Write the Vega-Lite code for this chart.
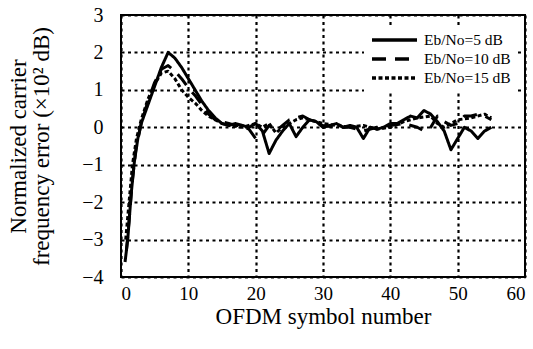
{
  "$schema": "https://vega.github.io/schema/vega-lite/v6.json",
  "width": 404,
  "height": 262,
  "autosize": "none",
  "padding": {"left": 121, "top": 15, "right": 8, "bottom": 72},
  "background": "white",
  "config": {
    "view": {"stroke": "black", "strokeWidth": 2},
    "font": "Liberation Serif"
  },
  "datasets": {
    "curves": [
      {"s": "Eb/No=5 dB", "x": 0.6, "y": -3.6}, {"s": "Eb/No=5 dB", "x": 1, "y": -3.0}, {"s": "Eb/No=5 dB", "x": 1.5, "y": -1.8}, {"s": "Eb/No=5 dB", "x": 2, "y": -0.9}, {"s": "Eb/No=5 dB", "x": 2.5, "y": -0.3}, {"s": "Eb/No=5 dB", "x": 3, "y": 0.1}, {"s": "Eb/No=5 dB", "x": 4, "y": 0.6}, {"s": "Eb/No=5 dB", "x": 5, "y": 1.1}, {"s": "Eb/No=5 dB", "x": 6, "y": 1.6}, {"s": "Eb/No=5 dB", "x": 7, "y": 2.0}, {"s": "Eb/No=5 dB", "x": 8, "y": 1.85}, {"s": "Eb/No=5 dB", "x": 9, "y": 1.6}, {"s": "Eb/No=5 dB", "x": 10, "y": 1.3}, {"s": "Eb/No=5 dB", "x": 11, "y": 1.0}, {"s": "Eb/No=5 dB", "x": 12, "y": 0.7}, {"s": "Eb/No=5 dB", "x": 13, "y": 0.45}, {"s": "Eb/No=5 dB", "x": 14, "y": 0.25}, {"s": "Eb/No=5 dB", "x": 15, "y": 0.1}, {"s": "Eb/No=5 dB", "x": 16, "y": 0.05}, {"s": "Eb/No=5 dB", "x": 17, "y": 0.1}, {"s": "Eb/No=5 dB", "x": 18, "y": 0.05}, {"s": "Eb/No=5 dB", "x": 19, "y": 0.0}, {"s": "Eb/No=5 dB", "x": 20, "y": 0.1}, {"s": "Eb/No=5 dB", "x": 21, "y": -0.1}, {"s": "Eb/No=5 dB", "x": 22, "y": -0.7}, {"s": "Eb/No=5 dB", "x": 23, "y": -0.35}, {"s": "Eb/No=5 dB", "x": 24, "y": -0.1}, {"s": "Eb/No=5 dB", "x": 25, "y": 0.1}, {"s": "Eb/No=5 dB", "x": 26, "y": -0.25}, {"s": "Eb/No=5 dB", "x": 27, "y": 0.0}, {"s": "Eb/No=5 dB", "x": 28, "y": 0.2}, {"s": "Eb/No=5 dB", "x": 29, "y": 0.15}, {"s": "Eb/No=5 dB", "x": 30, "y": 0.0}, {"s": "Eb/No=5 dB", "x": 31, "y": 0.05}, {"s": "Eb/No=5 dB", "x": 32, "y": 0.1}, {"s": "Eb/No=5 dB", "x": 33, "y": 0.0}, {"s": "Eb/No=5 dB", "x": 34, "y": 0.05}, {"s": "Eb/No=5 dB", "x": 35, "y": 0.0}, {"s": "Eb/No=5 dB", "x": 36, "y": -0.3}, {"s": "Eb/No=5 dB", "x": 37, "y": 0.0}, {"s": "Eb/No=5 dB", "x": 38, "y": -0.05}, {"s": "Eb/No=5 dB", "x": 39, "y": 0.0}, {"s": "Eb/No=5 dB", "x": 40, "y": 0.1}, {"s": "Eb/No=5 dB", "x": 41, "y": 0.1}, {"s": "Eb/No=5 dB", "x": 42, "y": 0.2}, {"s": "Eb/No=5 dB", "x": 43, "y": 0.3}, {"s": "Eb/No=5 dB", "x": 44, "y": 0.25}, {"s": "Eb/No=5 dB", "x": 45, "y": 0.45}, {"s": "Eb/No=5 dB", "x": 46, "y": 0.35}, {"s": "Eb/No=5 dB", "x": 47, "y": 0.15}, {"s": "Eb/No=5 dB", "x": 48, "y": -0.1}, {"s": "Eb/No=5 dB", "x": 49, "y": -0.6}, {"s": "Eb/No=5 dB", "x": 50, "y": -0.3}, {"s": "Eb/No=5 dB", "x": 51, "y": 0.0}, {"s": "Eb/No=5 dB", "x": 52, "y": -0.1}, {"s": "Eb/No=5 dB", "x": 53, "y": -0.3}, {"s": "Eb/No=5 dB", "x": 54, "y": -0.1}, {"s": "Eb/No=5 dB", "x": 55, "y": 0.0},
      {"s": "Eb/No=10 dB", "x": 0.8, "y": -3.3}, {"s": "Eb/No=10 dB", "x": 1.2, "y": -2.5}, {"s": "Eb/No=10 dB", "x": 1.7, "y": -1.4}, {"s": "Eb/No=10 dB", "x": 2.2, "y": -0.6}, {"s": "Eb/No=10 dB", "x": 3, "y": 0.1}, {"s": "Eb/No=10 dB", "x": 4, "y": 0.7}, {"s": "Eb/No=10 dB", "x": 5, "y": 1.2}, {"s": "Eb/No=10 dB", "x": 6, "y": 1.55}, {"s": "Eb/No=10 dB", "x": 7, "y": 1.65}, {"s": "Eb/No=10 dB", "x": 8, "y": 1.5}, {"s": "Eb/No=10 dB", "x": 9, "y": 1.3}, {"s": "Eb/No=10 dB", "x": 10, "y": 1.05}, {"s": "Eb/No=10 dB", "x": 11, "y": 0.85}, {"s": "Eb/No=10 dB", "x": 12, "y": 0.6}, {"s": "Eb/No=10 dB", "x": 13, "y": 0.35}, {"s": "Eb/No=10 dB", "x": 14, "y": 0.2}, {"s": "Eb/No=10 dB", "x": 15, "y": 0.15}, {"s": "Eb/No=10 dB", "x": 16, "y": 0.1}, {"s": "Eb/No=10 dB", "x": 17, "y": 0.05}, {"s": "Eb/No=10 dB", "x": 18, "y": 0.05}, {"s": "Eb/No=10 dB", "x": 19, "y": -0.05}, {"s": "Eb/No=10 dB", "x": 20, "y": -0.3}, {"s": "Eb/No=10 dB", "x": 21, "y": -0.2}, {"s": "Eb/No=10 dB", "x": 22, "y": 0.05}, {"s": "Eb/No=10 dB", "x": 23, "y": -0.1}, {"s": "Eb/No=10 dB", "x": 24, "y": 0.05}, {"s": "Eb/No=10 dB", "x": 25, "y": 0.2}, {"s": "Eb/No=10 dB", "x": 26, "y": 0.25}, {"s": "Eb/No=10 dB", "x": 27, "y": 0.3}, {"s": "Eb/No=10 dB", "x": 28, "y": 0.2}, {"s": "Eb/No=10 dB", "x": 29, "y": 0.1}, {"s": "Eb/No=10 dB", "x": 30, "y": 0.05}, {"s": "Eb/No=10 dB", "x": 32, "y": 0.0}, {"s": "Eb/No=10 dB", "x": 34, "y": 0.0}, {"s": "Eb/No=10 dB", "x": 36, "y": -0.1}, {"s": "Eb/No=10 dB", "x": 38, "y": 0.0}, {"s": "Eb/No=10 dB", "x": 40, "y": 0.05}, {"s": "Eb/No=10 dB", "x": 42, "y": 0.1}, {"s": "Eb/No=10 dB", "x": 44, "y": 0.0}, {"s": "Eb/No=10 dB", "x": 45, "y": -0.1}, {"s": "Eb/No=10 dB", "x": 46, "y": 0.0}, {"s": "Eb/No=10 dB", "x": 47, "y": 0.3}, {"s": "Eb/No=10 dB", "x": 48, "y": 0.15}, {"s": "Eb/No=10 dB", "x": 49, "y": 0.05}, {"s": "Eb/No=10 dB", "x": 50, "y": 0.1}, {"s": "Eb/No=10 dB", "x": 51, "y": 0.3}, {"s": "Eb/No=10 dB", "x": 52, "y": 0.3}, {"s": "Eb/No=10 dB", "x": 53, "y": 0.35}, {"s": "Eb/No=10 dB", "x": 54, "y": 0.3}, {"s": "Eb/No=10 dB", "x": 55, "y": 0.2},
      {"s": "Eb/No=15 dB", "x": 0.7, "y": -3.0}, {"s": "Eb/No=15 dB", "x": 1.2, "y": -2.0}, {"s": "Eb/No=15 dB", "x": 1.7, "y": -1.0}, {"s": "Eb/No=15 dB", "x": 2.3, "y": -0.3}, {"s": "Eb/No=15 dB", "x": 3, "y": 0.2}, {"s": "Eb/No=15 dB", "x": 4, "y": 0.75}, {"s": "Eb/No=15 dB", "x": 5, "y": 1.15}, {"s": "Eb/No=15 dB", "x": 6, "y": 1.45}, {"s": "Eb/No=15 dB", "x": 7, "y": 1.5}, {"s": "Eb/No=15 dB", "x": 8, "y": 1.3}, {"s": "Eb/No=15 dB", "x": 9, "y": 1.0}, {"s": "Eb/No=15 dB", "x": 10, "y": 0.8}, {"s": "Eb/No=15 dB", "x": 11, "y": 0.65}, {"s": "Eb/No=15 dB", "x": 12, "y": 0.45}, {"s": "Eb/No=15 dB", "x": 13, "y": 0.3}, {"s": "Eb/No=15 dB", "x": 14, "y": 0.2}, {"s": "Eb/No=15 dB", "x": 15, "y": 0.1}, {"s": "Eb/No=15 dB", "x": 16, "y": 0.05}, {"s": "Eb/No=15 dB", "x": 18, "y": 0.0}, {"s": "Eb/No=15 dB", "x": 20, "y": 0.1}, {"s": "Eb/No=15 dB", "x": 21, "y": 0.0}, {"s": "Eb/No=15 dB", "x": 22, "y": 0.1}, {"s": "Eb/No=15 dB", "x": 23, "y": -0.15}, {"s": "Eb/No=15 dB", "x": 24, "y": 0.0}, {"s": "Eb/No=15 dB", "x": 25, "y": 0.1}, {"s": "Eb/No=15 dB", "x": 26, "y": 0.2}, {"s": "Eb/No=15 dB", "x": 27, "y": 0.25}, {"s": "Eb/No=15 dB", "x": 28, "y": 0.2}, {"s": "Eb/No=15 dB", "x": 30, "y": 0.1}, {"s": "Eb/No=15 dB", "x": 32, "y": 0.05}, {"s": "Eb/No=15 dB", "x": 34, "y": 0.0}, {"s": "Eb/No=15 dB", "x": 36, "y": 0.05}, {"s": "Eb/No=15 dB", "x": 38, "y": -0.05}, {"s": "Eb/No=15 dB", "x": 40, "y": 0.0}, {"s": "Eb/No=15 dB", "x": 42, "y": 0.15}, {"s": "Eb/No=15 dB", "x": 44, "y": 0.25}, {"s": "Eb/No=15 dB", "x": 46, "y": 0.3}, {"s": "Eb/No=15 dB", "x": 47, "y": 0.1}, {"s": "Eb/No=15 dB", "x": 48, "y": 0.0}, {"s": "Eb/No=15 dB", "x": 50, "y": 0.2}, {"s": "Eb/No=15 dB", "x": 52, "y": 0.25}, {"s": "Eb/No=15 dB", "x": 54, "y": 0.35}, {"s": "Eb/No=15 dB", "x": 55, "y": 0.25}
    ]
  },
  "data": {"name": "curves"},
  "mark": {"type": "line", "color": "black", "strokeWidth": 3, "strokeJoin": "round"},
  "encoding": {
    "x": {
      "field": "x", "type": "quantitative",
      "scale": {"domain": [0, 60], "nice": false, "zero": false},
      "axis": {
        "values": [0, 10, 20, 30, 40, 50, 60],
        "title": "OFDM symbol number",
        "titleFont": "Liberation Serif", "titleFontSize": 23, "titleFontWeight": "normal", "titleColor": "black", "titlePadding": 2,
        "labelFont": "Liberation Serif", "labelFontSize": 19, "labelColor": "black", "labelPadding": 7,
        "ticks": false, "domain": false,
        "grid": true, "gridColor": "black", "gridDash": [3, 3.5], "gridWidth": 2.2, "gridOpacity": 1
      }
    },
    "y": {
      "field": "y", "type": "quantitative",
      "scale": {"domain": [-4, 3], "nice": false, "zero": false},
      "axis": {
        "values": [-4, -3, -2, -1, 0, 1, 2, 3],
        "title": ["Normalized carrier", "frequency error (×10² dB)"],
        "titleFont": "Liberation Serif", "titleFontSize": 23, "titleFontWeight": "normal", "titleColor": "black", "titlePadding": 28, "titleLineHeight": 23,
        "labelFont": "Liberation Serif", "labelFontSize": 20, "labelColor": "black", "labelPadding": 18,
        "ticks": false, "domain": false,
        "grid": true, "gridColor": "black", "gridDash": [3, 3.5], "gridWidth": 2.2, "gridOpacity": 1
      }
    },
    "strokeDash": {
      "field": "s", "type": "nominal",
      "scale": {"domain": ["Eb/No=5 dB", "Eb/No=10 dB", "Eb/No=15 dB"], "range": [[1, 0], [14, 9], [4, 2.5]]},
      "legend": {
        "title": null, "orient": "none", "legendX": 243, "legendY": 10,
        "symbolType": "stroke", "symbolSize": 2025, "symbolStrokeWidth": 3.5, "symbolStrokeColor": "black",
        "clipHeight": 18, "rowPadding": 1, "padding": 6,
        "labelFont": "Liberation Serif", "labelFontSize": 15.5, "labelColor": "black", "labelOffset": 5,
        "fillColor": "white"
      }
    }
  }
}
